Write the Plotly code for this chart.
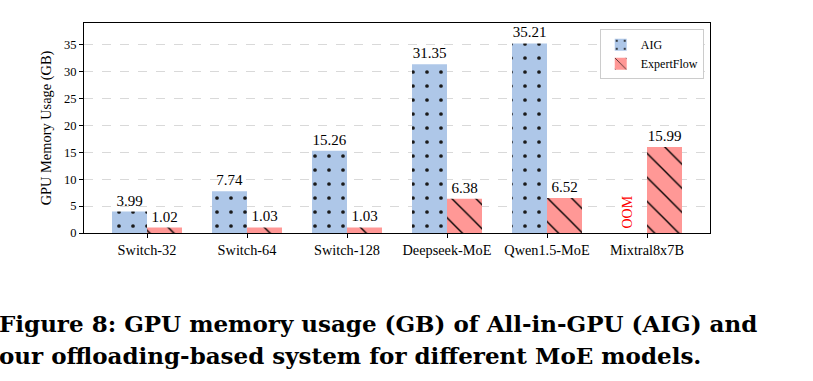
import plotly.graph_objects as go

models = ["Switch-32", "Switch-64", "Switch-128", "Deepseek-MoE", "Qwen1.5-MoE", "Mixtral8x7B"]
aig = [3.99, 7.74, 15.26, 31.35, 35.21, None]
expertflow = [1.02, 1.03, 1.03, 6.38, 6.52, 15.99]
oom_labels = ["", "", "", "", "", "OOM"]
y_ticks = [0, 5, 10, 15, 20, 25, 30, 35]

FONT = "Liberation Serif"
W, H = 813, 381
L, R, T, B = 84, 103, 23, 148
PW = W - L - R
PH = H - T - B

def fmt(v):
    return "" if v is None else f"{v:.2f}"

fig = go.Figure()
fig.add_trace(go.Bar(
    name="AIG", x=models, y=aig,
    text=[fmt(v) for v in aig], textposition="outside",
    textfont=dict(family=FONT, size=15, color="black"),
    marker=dict(color="#aec7e8", line=dict(width=0),
                pattern=dict(shape=".", fgcolor="#1a1a1a", bgcolor="#aec7e8",
                             size=14, solidity=0.055, fillmode="replace")),
    cliponaxis=False,
))
fig.add_trace(go.Bar(
    name="ExpertFlow", x=models, y=expertflow,
    text=[fmt(v) for v in expertflow], textposition="outside",
    textfont=dict(family=FONT, size=15, color="black"),
    marker=dict(color="#ff9896", line=dict(width=0),
                pattern=dict(shape="\\", fgcolor="black", bgcolor="#ff9896",
                             size=17, solidity=0.08, fillmode="replace")),
    cliponaxis=False,
))

for i, lab in enumerate(oom_labels):
    if lab:
        fig.add_annotation(x=i, y=0, xshift=-20, text=lab, textangle=-90,
                           showarrow=False, yanchor="bottom", yshift=2,
                           font=dict(family=FONT, size=14, color="red"))

def px_to_paper_x(px):
    return (px - L) / PW

def px_to_paper_y(py):
    return (H - B - py) / PH

caption = [
    "Figure 8: GPU memory usage (GB) of All-in-GPU (AIG) and",
    "our offloading-based system for different MoE models.",
]
for j, line in enumerate(caption):
    fig.add_annotation(xref="paper", yref="paper",
                       x=px_to_paper_x(-3), y=px_to_paper_y(323 + 32 * j),
                       xanchor="left", yanchor="middle", showarrow=False,
                       text="<b>" + line + "</b>",
                       font=dict(family="DejaVu Serif", size=23, color="black"))

fig.update_layout(
    width=W, height=H,
    margin=dict(l=L, r=R, t=T, b=B, pad=0),
    paper_bgcolor="white", plot_bgcolor="white",
    barmode="group", bargap=0.3, bargroupgap=0,
    font=dict(family=FONT, size=13, color="black"),
    showlegend=True,
    legend=dict(x=0.99, y=0.97, xanchor="right", yanchor="top",
                bgcolor="white", bordercolor="#cccccc", borderwidth=1,
                font=dict(family=FONT, size=12), tracegroupgap=0,
                itemwidth=30),
)
fig.update_xaxes(
    range=[-0.63, 5.63], showline=True, linecolor="black", linewidth=1.2,
    mirror=True, ticks="outside", ticklen=4, tickcolor="black",
    tickfont=dict(family=FONT, size=14.3), showgrid=False,
)
fig.update_yaxes(
    range=[0, 39], tickvals=y_ticks, showline=True, linecolor="black",
    linewidth=1.2, mirror=True, ticks="outside", ticklen=4, tickcolor="black",
    tickfont=dict(family=FONT, size=12.5),
    showgrid=True, gridcolor="#d9d9d9", griddash="dash", gridwidth=1,
    zeroline=False,
    title=dict(text="GPU Memory Usage (GB)", font=dict(family=FONT, size=14.4),
               standoff=8),
)

fig.write_html("out.html")
